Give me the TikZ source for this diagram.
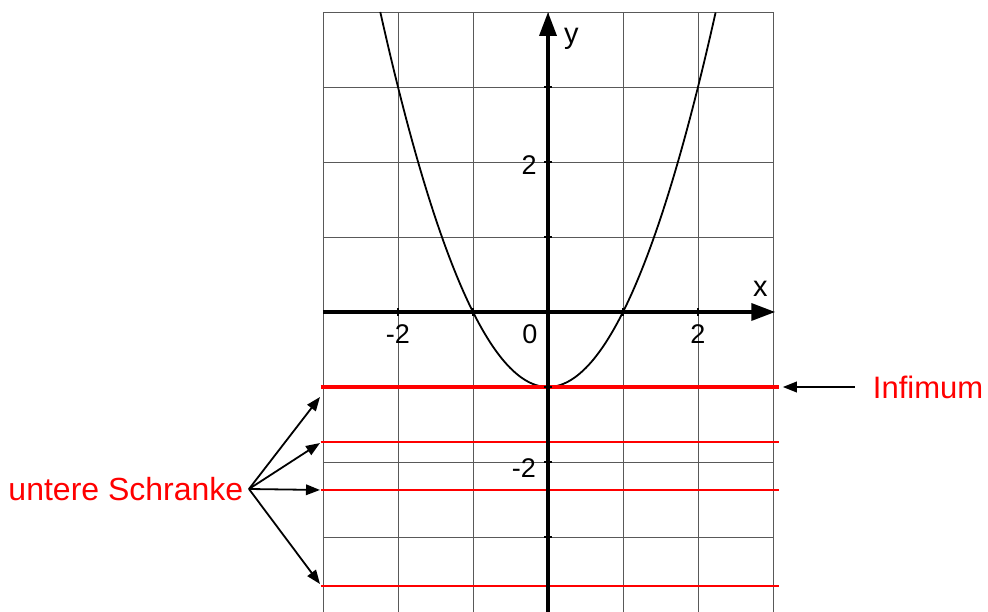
\documentclass[tikz,border=0pt]{standalone}
\usepackage{fontspec}
\setmainfont{Liberation Sans}
\usetikzlibrary{arrows.meta}
\begin{document}
\begin{tikzpicture}[x=75pt,y=75pt,
  gridline/.style={black!65,line width=0.9pt},
  axisline/.style={line width=3.6pt,-{Triangle[length=24pt,width=17pt]}},
  tickmark/.style={line width=2.6pt},
  ticklabel/.style={font=\fontsize{27}{27}\selectfont,inner sep=0pt},
  redline/.style={red,line width=2pt},
  pointer/.style={line width=1.8pt,-{Triangle[length=14pt,width=10.5pt]}},
  redtext/.style={red,font=\fontsize{32}{32}\selectfont,inner sep=0pt}]
\useasboundingbox (-7.3067,-4) rectangle (5.8667,4.16);
% grid
\draw[gridline,step=1] (-3,-4) grid (3,4);
% curve
\draw[line width=1.8pt] plot[domain=-2.236:2.236,samples=120,smooth] (\x,{\x*\x-1});
% red lines
\draw[redline,line width=4pt] (-3.03,-1) -- (3.08,-1);
\draw[redline] (-3.03,-1.733) -- (3.08,-1.733);
\draw[redline] (-3.03,-2.373) -- (3.08,-2.373);
\draw[redline] (-3.03,-3.653) -- (3.08,-3.653);
% axes
\coordinate (xs) at (-3,0);
\coordinate (xe) at (3.03,0);
\coordinate (ys) at (0,-4);
\coordinate (ye) at (0,4);
\draw[axisline] (xs) -- (xe);
\draw[axisline] (ys) -- (ye);
\foreach \t in {-2,-1,1,2} \draw[tickmark] (\t,-0.05) -- (\t,0.05);
\foreach \t in {-3,-2,-1,1,2,3} \draw[tickmark] (-0.05,\t) -- (0.05,\t);
% labels
\node[ticklabel] (lxm2) at (-2,-0.29) {-2};
\node[ticklabel] (lx0) at (-0.24,-0.29) {0};
\node[ticklabel] (lx2) at (2,-0.29) {2};
\node[ticklabel] (ly2) at (-0.25,1.96) {2};
\node[ticklabel] (lym2) at (-0.32,-2.08) {-2};
\node[ticklabel,font=\fontsize{29}{29}\selectfont] (lx) at (2.83,0.31) {x};
\node[ticklabel,font=\fontsize{29}{29}\selectfont] (ly) at (0.31,3.64) {y};
% Infimum
\node[redtext,anchor=west,font=\fontsize{31}{31}\selectfont] (inf) at (4.33,-1) {Infimum};
\coordinate (infs) at (4.09,-1);
\coordinate (infe) at (3.13,-1);
\draw[pointer] (infs) -- (infe);
% untere Schranke
\coordinate (apex) at (-3.987,-2.36);
\node[redtext,anchor=east] (us) at (-4.06,-2.36) {untere Schranke};
\coordinate (e1) at (-3.04,-1.133);
\coordinate (e2) at (-3.04,-1.747);
\coordinate (e3) at (-3.04,-2.373);
\coordinate (e4) at (-3.04,-3.627);
\foreach \e in {e1,e2,e3,e4} \draw[pointer] (apex) -- (\e);
\end{tikzpicture}
\end{document}
